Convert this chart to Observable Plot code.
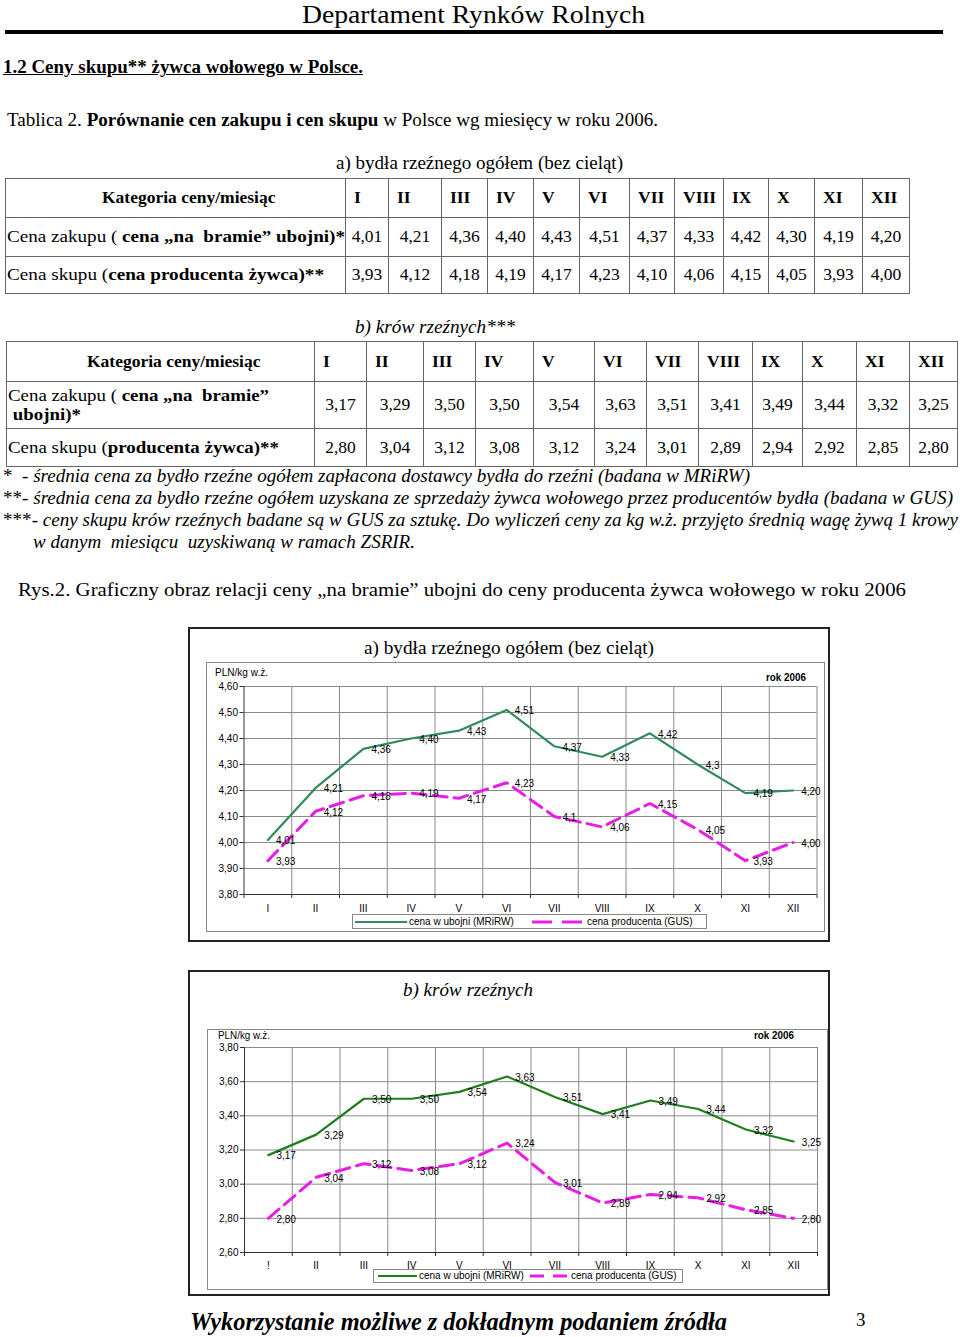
<!DOCTYPE html>
<html><head><meta charset="utf-8">
<script src="https://cdn.jsdelivr.net/npm/d3@7"></script>
<script src="https://cdn.jsdelivr.net/npm/@observablehq/plot@0.6"></script>
<style>
html,body{margin:0;padding:0;background:#fff;}
#page{position:relative;width:960px;height:1337px;overflow:hidden;font-family:"Liberation Serif","Times New Roman",serif;color:#000;}
.t{position:absolute;white-space:nowrap;line-height:1.2;transform-origin:0 50%;}
table{position:absolute;border-collapse:collapse;table-layout:fixed;font-family:"Liberation Serif",serif;font-size:17.5px;}
td{border:1px solid #666;padding:0;text-align:center;white-space:nowrap;overflow:visible;line-height:1.1;}
td.l{text-align:left;padding-left:1px;}
td.h{text-align:left;padding-left:8px;font-weight:bold;}
.fit{display:inline-block;transform-origin:0 50%;}
.box{position:absolute;box-sizing:border-box;}
.sans{font-family:"Liberation Sans",Arial,sans-serif;}
</style></head><body><div id="page"></div>
<script>
// ---------- data ----------
const tableMonths = ["I","II","III","IV","V","VI","VII","VIII","IX","X","XI","XII"];
const chartMonthsA = ["I","II","III","IV","V","VI","VII","VIII","IX","X","XI","XII"];
const chartMonthsB = ["!","II","III","IV","V","VI","VII","VIII","IX","X","XI","XII"];

const cattleZakup = [4.01,4.21,4.36,4.40,4.43,4.51,4.37,4.33,4.42,4.30,4.19,4.20];
const cattleSkup  = [3.93,4.12,4.18,4.19,4.17,4.23,4.10,4.06,4.15,4.05,3.93,4.00];
const cowsZakup   = [3.17,3.29,3.50,3.50,3.54,3.63,3.51,3.41,3.49,3.44,3.32,3.25];
const cowsSkup    = [2.80,3.04,3.12,3.08,3.12,3.24,3.01,2.89,2.94,2.92,2.85,2.80];

const labelsCattleZakup = ["4,01","4,21","4,36","4,40","4,43","4,51","4,37","4,33","4,42","4,3","4,19","4,20"];
const labelsCattleSkup  = ["3,93","4,12","4,18","4,19","4,17","4,23","4,1","4,06","4,15","4,05","3,93","4,00"];
const labelsCowsZakup   = ["3,17","3,29","3,50","3,50","3,54","3,63","3,51","3,41","3,49","3,44","3,32","3,25"];
const labelsCowsSkup    = ["2,80","3,04","3,12","3,08","3,12","3,24","3,01","2,89","2,94","2,92","2,85","2,80"];

const yTicksA = [3.8,3.9,4.0,4.1,4.2,4.3,4.4,4.5,4.6];
const yTicksB = [2.6,2.8,3.0,3.2,3.4,3.6,3.8];

const seriesNames = ["cena w ubojni (MRiRW)","cena producenta (GUS)"];

// ---------- helpers ----------
const page = document.getElementById("page");
const fmt = v => d3.format(".2f")(v).replace(".", ",");
const fits = [];
function txt(html, x, cy, size, o = {}) {
  const d = document.createElement("div");
  d.className = "t" + (o.cls ? " " + o.cls : "");
  d.innerHTML = html;
  d.style.left = x + "px";
  if (o.lh1) { d.style.lineHeight = "1"; d.style.top = (cy - 0.51 * size) + "px"; }
  else d.style.top = (cy - 0.6 * size) + "px";
  d.style.fontSize = size + "px";
  if (o.weight) d.style.fontWeight = o.weight;
  if (o.style) d.style.fontStyle = o.style;
  if (o.deco) d.style.textDecoration = o.deco;
  page.appendChild(d);
  if (o.w) fits.push([d, o.w]);
  return d;
}
function box(x1, y1, x2, y2, border) {
  const d = document.createElement("div");
  d.className = "box";
  Object.assign(d.style, {left: x1 + "px", top: y1 + "px", width: (x2 - x1) + "px", height: (y2 - y1) + "px", border});
  page.appendChild(d);
  return d;
}

// ---------- header ----------
txt("Departament Rynków Rolnych", 302, 15, 26, {w: 343, lh1: true});
const rule = box(5, 30, 943, 34, "none"); rule.style.background = "#000";
txt("1.2 Ceny skupu** żywca wołowego w Polsce.", 3, 68, 18, {weight: "bold", deco: "underline", w: 360});
txt("Tablica 2. <b>Porównanie cen zakupu i cen skupu</b> w Polsce wg miesięcy w roku 2006.", 7, 121, 18, {w: 651});

// ---------- tables ----------
function makeTable(x, y, colW, rowH, headPad, rows) {
  const t = document.createElement("table");
  t.style.left = x + "px"; t.style.top = y + "px";
  t.style.width = colW.reduce((a, b) => a + b, 0) + "px";
  const cg = document.createElement("colgroup");
  colW.forEach(w => { const c = document.createElement("col"); c.style.width = w + "px"; cg.appendChild(c); });
  t.appendChild(cg);
  rows.forEach((r, ri) => {
    const tr = document.createElement("tr");
    tr.style.height = rowH[ri] + "px";
    r.forEach((c, ci) => {
      const td = document.createElement("td");
      if (ri === 0) {
        td.className = "h";
        if (ci === 0) td.style.paddingLeft = headPad + "px";
      } else if (ci === 0) td.className = "l";
      if (typeof c === "object") {
        td.innerHTML = `<span class="fit">${c.html}</span>`;
        fits.push([td.firstChild, c.w]);
      } else td.innerHTML = c;
      tr.appendChild(td);
    });
    t.appendChild(tr);
  });
  page.appendChild(t);
}

txt("a) bydła rzeźnego ogółem (bez cieląt)", 336, 164, 18, {w: 287});
makeTable(5, 178,
  [340,43,53,46,46,46,50,45,49,45,46,48,47],
  [39,39,37], 96,
  [
    ["Kategoria ceny/miesiąc", ...tableMonths],
    [{html: "Cena zakupu ( <b>cena „na&nbsp; bramie” ubojni)*</b>", w: 338}, ...cattleZakup.map(fmt)],
    [{html: "Cena skupu (<b>cena producenta żywca)**</b>", w: 317}, ...cattleSkup.map(fmt)]
  ]);

txt("b) krów rzeźnych***", 355, 328, 18, {style: "italic", w: 160});
makeTable(6, 341,
  [308,52,57,52,58,61,52,52,54,50,54,53,48],
  [40,47,38], 80,
  [
    ["Kategoria ceny/miesiąc", ...tableMonths],
    [{html: "Cena zakupu ( <b>cena „na&nbsp; bramie”</b><br>&nbsp;<b>ubojni)*</b>", w: 261}, ...cowsZakup.map(fmt)],
    [{html: "Cena skupu (<b>producenta żywca)**</b>", w: 271}, ...cowsSkup.map(fmt)]
  ]);

// ---------- footnotes ----------
txt("*&nbsp; <i>- średnia cena za bydło rzeźne ogółem zapłacona dostawcy bydła do rzeźni (badana w MRiRW)</i>", 3, 477, 18, {w: 747});
txt("**<i>- średnia cena za bydło rzeźne ogółem uzyskana ze sprzedaży żywca wołowego przez producentów bydła (badana w GUS)</i>", 3, 499, 18, {w: 950});
txt("***<i>- ceny skupu krów rzeźnych badane są w GUS za sztukę. Do wyliczeń ceny za kg w.ż. przyjęto średnią wagę żywą 1 krowy</i>", 3, 521, 18, {w: 955});
txt("<i>w danym&nbsp; miesiącu&nbsp; uzyskiwaną w ramach ZSRIR.</i>", 33, 543, 18, {w: 382});

txt("Rys.2. Graficzny obraz relacji ceny „na bramie” ubojni do ceny producenta żywca wołowego w roku 2006", 18, 590, 19, {w: 888});

// ---------- charts ----------
function chart(cfg) {
  const {svgL, svgT, svgW, svgH, ml, mr, mt, mb, months, s1, s2, l1, l2, yTicks, green, dash, labPad} = cfg;
  const idx = months.map((m, i) => i);
  const bounds = months.map((m, i) => i + 0.5);
  const d1 = idx.map(i => ({i, v: s1[i], l: l1[i]}));
  const d2 = idx.map(i => ({i, v: s2[i], l: l2[i]}));
  const yDom = [yTicks[0], yTicks[yTicks.length - 1]];
  const p = Plot.plot({
    width: svgW, height: svgH,
    marginLeft: ml, marginRight: mr, marginTop: mt, marginBottom: mb,
    style: {fontFamily: "'Liberation Sans', Arial, sans-serif", fontSize: "10px", color: "#000", background: "transparent", overflow: "visible"},
    x: {type: "linear", domain: [-0.5, months.length - 0.5], axis: null},
    y: {domain: yDom, axis: null},
    marks: [
      Plot.ruleY(yTicks, {stroke: "#8a8a8a", strokeWidth: 1}),
      Plot.ruleX(bounds, {stroke: "#8a8a8a", strokeWidth: 1}),
      Plot.ruleX([-0.5], {stroke: "#333", strokeWidth: 1}),
      Plot.ruleY([yDom[0]], {stroke: "#333", strokeWidth: 1}),
      Plot.axisY({ticks: yTicks, tickSize: 4, tickPadding: 2, tickFormat: fmt, stroke: "#333", fill: "#000", label: null}),
      Plot.axisX({ticks: [-0.5, ...bounds], tickSize: 4, tickFormat: () => "", stroke: "#333", label: null}),
      Plot.axisX({ticks: idx, tickSize: 0, tickPadding: labPad, tickFormat: i => months[i], fill: "#000", label: null}),
      Plot.line(d1, {x: "i", y: "v", stroke: green, strokeWidth: 2.2}),
      Plot.line(d2, {x: "i", y: "v", stroke: "#e61ee6", strokeWidth: 3, strokeDasharray: dash}),
      Plot.text(d1, {x: "i", y: "v", text: "l", dx: 8, dy: 1, textAnchor: "start", fill: "#000"}),
      Plot.text(d2, {x: "i", y: "v", text: "l", dx: 8, dy: 1, textAnchor: "start", fill: "#000"})
    ]
  });
  p.style.position = "absolute";
  p.style.left = svgL + "px";
  p.style.top = svgT + "px";
  page.appendChild(p);
}

function legend(bx1, by1, bx2, by2, g1, g2, l1x, m1, m2, l2x, green, dash) {
  box(bx1, by1, bx2, by2, "1px solid #888");
  const cy = (by1 + by2) / 2;
  const svg = d3.create("svg").attr("width", 960).attr("height", 20)
    .style("position", "absolute").style("left", "0px").style("top", (cy - 10) + "px");
  svg.append("line").attr("x1", g1).attr("x2", g2).attr("y1", 10).attr("y2", 10)
    .attr("stroke", green).attr("stroke-width", 2.2);
  svg.append("line").attr("x1", m1).attr("x2", m2).attr("y1", 10).attr("y2", 10)
    .attr("stroke", "#e61ee6").attr("stroke-width", 3).attr("stroke-dasharray", dash);
  page.appendChild(svg.node());
  txt(seriesNames[0], l1x, cy, 10, {cls: "sans"});
  txt(seriesNames[1], l2x, cy, 10, {cls: "sans"});
}

// chart a
box(188, 627, 830, 942, "2px solid #222");
txt("a) bydła rzeźnego ogółem (bez cieląt)", 364, 648, 19, {w: 290});
box(206, 662, 825, 932, "1px solid #888");
chart({svgL: 206, svgT: 662, svgW: 619, svgH: 270, ml: 37.5, mr: 8.5, mt: 24, mb: 38,
  months: chartMonthsA, s1: cattleZakup, s2: cattleSkup, l1: labelsCattleZakup, l2: labelsCattleSkup,
  yTicks: yTicksA, green: "#2f8a5c", dash: "14,7", labPad: 10});
txt("PLN/kg w.ż.", 215, 673, 10, {cls: "sans", w: 53});
txt("<b>rok 2006</b>", 766, 678, 10, {cls: "sans", w: 40});
legend(352, 914, 707, 929, 355, 407, 409, 532, 585, 587, "#2f8a5c", "20,10");

// chart b
box(188, 970, 830, 1296, "2px solid #222");
txt("b) krów rzeźnych", 403, 990, 19, {style: "italic", w: 130});
box(207, 1029, 828, 1290, "1px solid #888");
chart({svgL: 207, svgT: 1029, svgW: 621, svgH: 261, ml: 37, mr: 11, mt: 18, mb: 38,
  months: chartMonthsB, s1: cowsZakup, s2: cowsSkup, l1: labelsCowsZakup, l2: labelsCowsSkup,
  yTicks: yTicksB, green: "#1f7f1f", dash: "14,7", labPad: 9});
txt("PLN/kg w.ż.", 218, 1036, 10, {cls: "sans", w: 52});
txt("<b>rok 2006</b>", 754, 1036, 10, {cls: "sans", w: 40});
legend(373, 1269, 683, 1283, 378, 417, 419, 530, 569, 571, "#1f7f1f", "14,9");

// footer
txt("<b><i>Wykorzystanie możliwe z dokładnym podaniem źródła</i></b>", 190, 1322, 26, {w: 537});
txt("3", 856, 1320, 19);

// fit widths
function doFit() {
  fits.forEach(([el, w]) => {
    el.style.transform = "none";
    const nat = el.getBoundingClientRect().width;
    if (nat > 0) el.style.transform = `scaleX(${w / nat})`;
  });
}
doFit();
if (document.fonts && document.fonts.ready) document.fonts.ready.then(doFit);
</script></body></html>
